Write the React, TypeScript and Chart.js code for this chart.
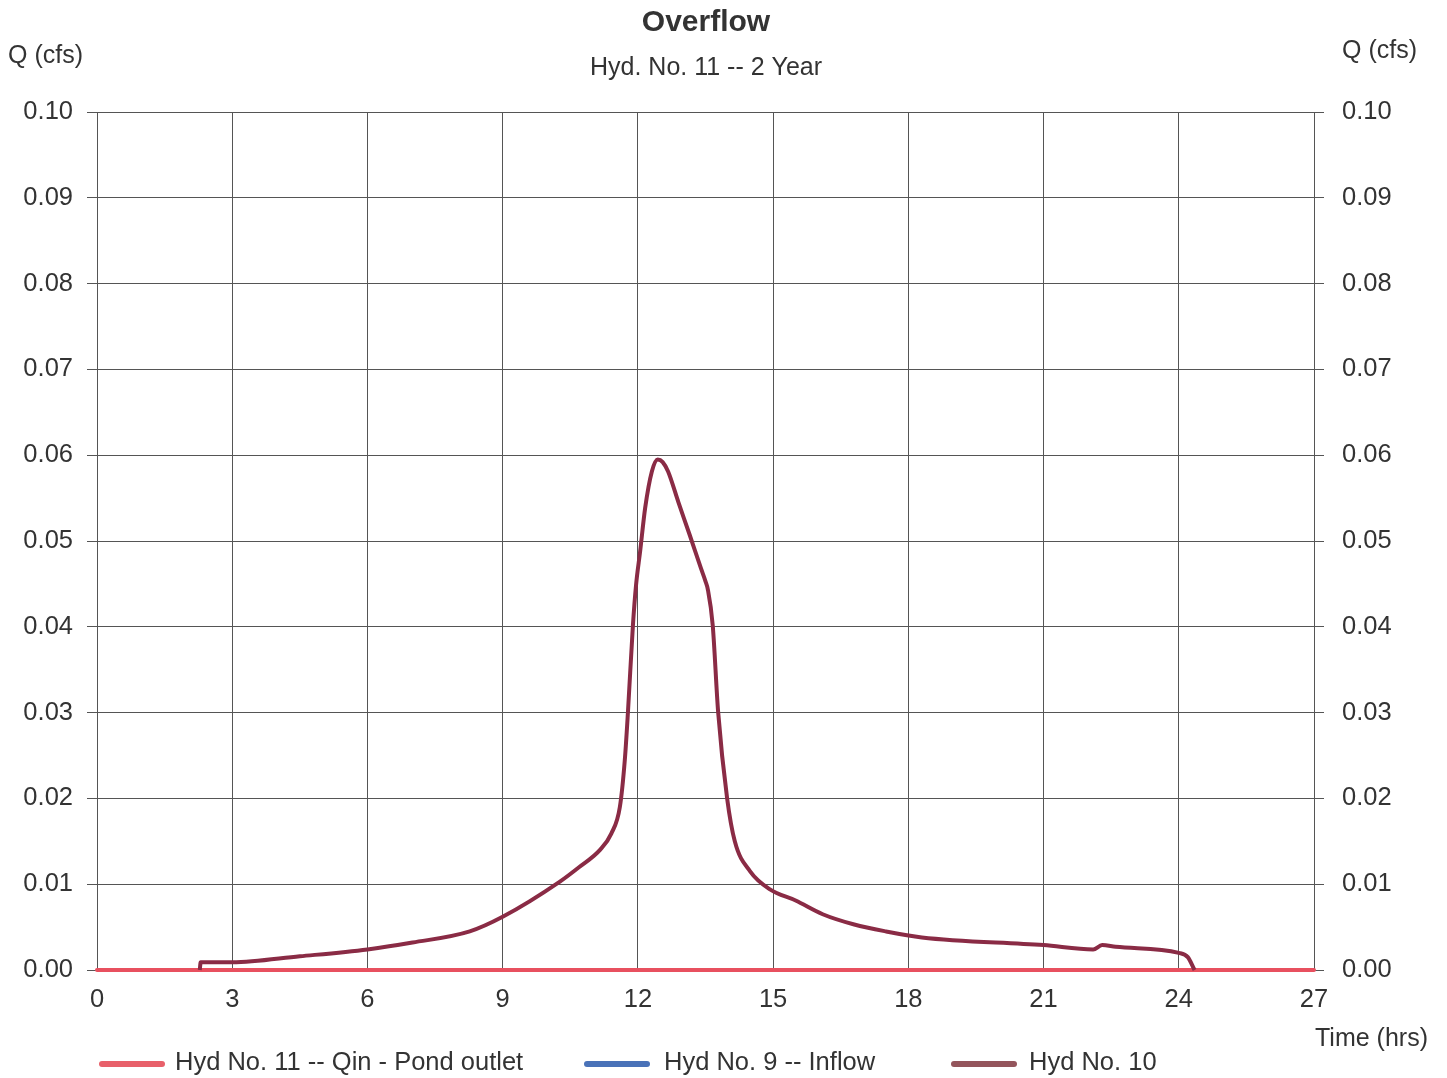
import React, { useEffect, useRef } from "react";
import { Chart, registerables } from "chart.js";

Chart.register(...registerables);

const xTicks = [0, 3, 6, 9, 12, 15, 18, 21, 24, 27];
const hyd11X = [0, 27];
const hyd11Y = [0, 0];
const hyd9X = [0, 27];
const hyd9Y = [0, 0];
const hyd10X = [2.28, 2.3, 3.0, 4.5, 6.0, 7.0, 8.27, 9.0, 10.27, 10.7, 11.16, 11.41, 11.6, 11.71, 11.78, 11.89, 11.96, 12.05, 12.16, 12.31, 12.44, 12.55, 12.67, 12.9, 13.15, 13.4, 13.5, 13.55, 13.66, 13.78, 13.98, 14.15, 14.49, 14.93, 15.5, 16.1, 16.8, 17.5, 18.3, 21.0, 22.1, 22.3, 22.6, 24.0, 24.2, 24.35];
const hyd10Y = [0, 0.0009, 0.0009, 0.0016, 0.0024, 0.0032, 0.0045, 0.0062, 0.0103, 0.0120, 0.0140, 0.0159, 0.0190, 0.0245, 0.0301, 0.0402, 0.0449, 0.0488, 0.0538, 0.0581, 0.0595, 0.0592, 0.0581, 0.0545, 0.0507, 0.0468, 0.0453, 0.0444, 0.0402, 0.0301, 0.0200, 0.0150, 0.0115, 0.0094, 0.0081, 0.0065, 0.0053, 0.0045, 0.0038, 0.0029, 0.0024, 0.0029, 0.0027, 0.0020, 0.0015, 0.0];

const legendItems = [
  { label: "Hyd No. 11 -- Qin - Pond outlet", color: "#e8606a", x: 100, tx: 175 },
  { label: "Hyd No. 9 -- Inflow", color: "#4a72b8", x: 585, tx: 664 },
  { label: "Hyd No. 10", color: "#94555c", x: 952, tx: 1029 },
];

const FONT = "'Liberation Sans', Arial, sans-serif";
const TXT = "#333333";

export default function App() {
  const ref = useRef<HTMLCanvasElement | null>(null);
  useEffect(() => {
    document.body.style.margin = "0";
    const canvas = ref.current!;
    const textPlugin = {
      id: "texts",
      afterDraw(chart: any) {
        const ctx = chart.ctx as CanvasRenderingContext2D;
        ctx.save();
        ctx.fillStyle = TXT;
        ctx.textBaseline = "middle";
        ctx.textAlign = "center";
        ctx.font = `bold 30px ${FONT}`;
        ctx.fillText("Overflow", 706, 23);
        ctx.font = `25px ${FONT}`;
        ctx.fillText("Hyd. No. 11 -- 2 Year", 706, 68);
        ctx.textAlign = "left";
        ctx.fillText("Q (cfs)", 8, 56);
        ctx.fillText("Q (cfs)", 1342, 51);
        ctx.fillText("Time (hrs)", 1315, 1039);
        ctx.font = `25.5px ${FONT}`;
        for (const it of legendItems) {
          ctx.strokeStyle = it.color;
          ctx.lineWidth = 6;
          ctx.lineCap = "round";
          ctx.beginPath();
          ctx.moveTo(it.x + 2, 1064);
          ctx.lineTo(it.x + 62, 1064);
          ctx.stroke();
          ctx.fillStyle = TXT;
          ctx.fillText(it.label, it.tx, 1063);
        }
        ctx.restore();
      },
    };
    const chart = new Chart(canvas, {
      type: "line",
      data: {
        datasets: [
          {
            label: "Hyd No. 9 -- Inflow",
            data: hyd9X.map((x, i) => ({ x, y: hyd9Y[i] })),
            borderColor: "#4a72b8",
            borderWidth: 4,
            pointRadius: 0,
            clip: false,
            order: 3,
          },
          {
            label: "Hyd No. 11 -- Qin - Pond outlet",
            data: hyd11X.map((x, i) => ({ x, y: hyd11Y[i] })),
            borderColor: "#e8505f",
            borderWidth: 4,
            borderCapStyle: "round",
            pointRadius: 0,
            clip: false,
            order: 2,
          },
          {
            label: "Hyd No. 10",
            data: hyd10X.map((x, i) => ({ x, y: hyd10Y[i] })),
            borderColor: "#8a2b45",
            borderWidth: 4,
            pointRadius: 0,
            cubicInterpolationMode: "monotone",
            clip: false,
            order: 1,
          },
        ],
      },
      options: {
        animation: false,
        responsive: false,
        layout: { padding: { top: 112, left: 0, right: 0, bottom: 0 } },
        plugins: { legend: { display: false }, tooltip: { enabled: false }, title: { display: false } },
        scales: {
          x: {
            type: "linear",
            min: 0,
            max: 27,
            afterBuildTicks: (s: any) => { s.ticks = xTicks.map((v) => ({ value: v })); },
            afterFit: (s: any) => { s.height = 108; },
            grid: { color: "#555555", lineWidth: 1, drawTicks: false },
            border: { color: "#555555" },
            ticks: { color: TXT, font: { family: FONT, size: 25.5 }, padding: 15, maxRotation: 0 },
          },
          y: {
            position: "left",
            min: 0,
            max: 0.1,
            afterFit: (s: any) => { s.width = 97; },
            grid: { color: "#555555", lineWidth: 1, tickLength: 10 },
            border: { color: "#555555" },
            ticks: { stepSize: 0.01, color: TXT, font: { family: FONT, size: 25.5 }, padding: 14, callback: (v: any) => Number(v).toFixed(2) },
          },
          y1: {
            position: "right",
            min: 0,
            max: 0.1,
            afterFit: (s: any) => { s.width = 133; },
            grid: { drawOnChartArea: false, color: "#555555", tickLength: 10 },
            border: { color: "#555555" },
            ticks: { stepSize: 0.01, color: TXT, font: { family: FONT, size: 25.5 }, padding: 18, callback: (v: any) => Number(v).toFixed(2) },
          },
        },
      },
      plugins: [textPlugin],
    } as any);
    return () => chart.destroy();
  }, []);
  return <canvas ref={ref} width={1447} height={1078} style={{ display: "block" }} />;
}
